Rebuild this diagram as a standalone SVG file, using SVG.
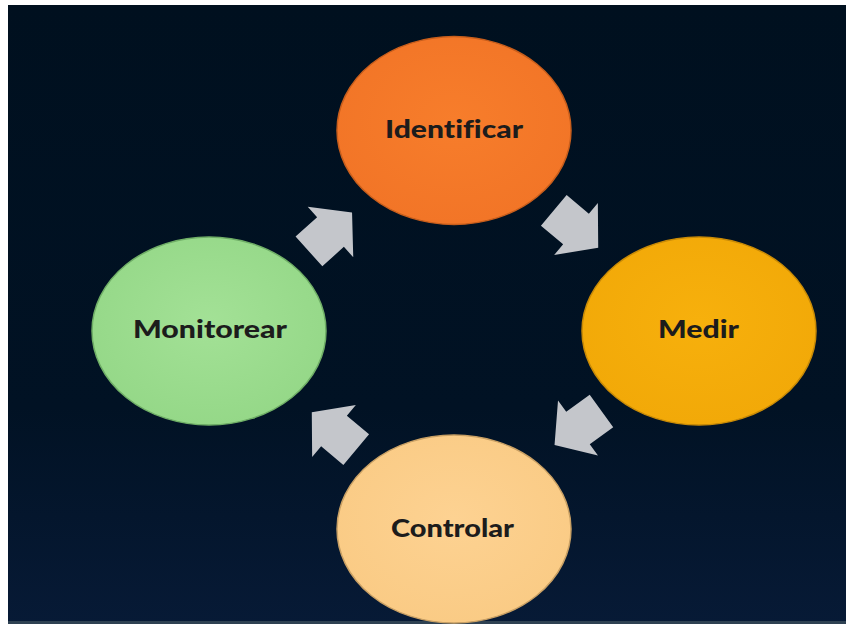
<svg xmlns="http://www.w3.org/2000/svg" width="846" height="624" viewBox="0 0 846 624">
  <defs>
    <linearGradient id="bg" x1="0" y1="0" x2="0" y2="1">
      <stop offset="0" stop-color="#00101f"/>
      <stop offset="0.65" stop-color="#011224"/>
      <stop offset="1" stop-color="#071a36"/>
    </linearGradient>
    <radialGradient id="gOrange" cx="0.5" cy="0.45" r="0.55">
      <stop offset="0" stop-color="#f77d2b"/>
      <stop offset="1" stop-color="#f27527"/>
    </radialGradient>
    <radialGradient id="gAmber" cx="0.5" cy="0.45" r="0.55">
      <stop offset="0" stop-color="#f7b00c"/>
      <stop offset="1" stop-color="#f2a908"/>
    </radialGradient>
    <radialGradient id="gPeach" cx="0.5" cy="0.45" r="0.55">
      <stop offset="0" stop-color="#fdd292"/>
      <stop offset="1" stop-color="#facb85"/>
    </radialGradient>
    <radialGradient id="gGreen" cx="0.5" cy="0.45" r="0.55">
      <stop offset="0" stop-color="#a3e196"/>
      <stop offset="1" stop-color="#95d888"/>
    </radialGradient>
    <path id="arr" d="M-29,-20 H0 V-34 L29,0 L0,34 V20 H-29 Z"/>
  </defs>
  <style>
    .lbl { font-family: Lato, "Open Sans", "Liberation Sans", sans-serif; font-weight: 900; font-size: 24px; fill: #1c1c1c; text-anchor: middle; font-variant-ligatures: none; }
    .node ellipse { stroke-width: 1.5; }
    .arrow { fill: #c4c6cb; }
  </style>
  <rect x="0" y="0" width="846" height="624" fill="#ffffff"/>
  <rect x="8" y="5" width="838" height="619" fill="url(#bg)"/>
  <rect x="8" y="621" width="838" height="3" fill="#2e4152"/>

  <g id="connectors">
    <use href="#arr" class="arrow" transform="translate(330.5,232) rotate(-42)"/>
    <use href="#arr" class="arrow" transform="translate(576,229) rotate(40)"/>
    <use href="#arr" class="arrow" transform="translate(578,428) rotate(144)"/>
    <use href="#arr" class="arrow" transform="translate(334,431) rotate(220)"/>
  </g>

  <g id="node-identificar" class="node">
    <ellipse cx="454" cy="130.5" rx="117" ry="94" fill="url(#gOrange)" stroke="#c85e1c"/>
    <text class="lbl" x="454" y="138" textLength="138" lengthAdjust="spacingAndGlyphs">Identificar</text>
  </g>
  <g id="node-medir" class="node">
    <ellipse cx="699" cy="331" rx="117" ry="94" fill="url(#gAmber)" stroke="#c88a06"/>
    <text class="lbl" x="698.5" y="338" textLength="81" lengthAdjust="spacingAndGlyphs">Medir</text>
  </g>
  <g id="node-controlar" class="node">
    <ellipse cx="454" cy="529" rx="117" ry="94" fill="url(#gPeach)" stroke="#c9a064"/>
    <text class="lbl" x="452.5" y="537" textLength="123" lengthAdjust="spacingAndGlyphs">Controlar</text>
  </g>
  <g id="node-monitorear" class="node">
    <ellipse cx="209" cy="331" rx="117" ry="94" fill="url(#gGreen)" stroke="#6fae66"/>
    <text class="lbl" x="210" y="338" textLength="154" lengthAdjust="spacingAndGlyphs">Monitorear</text>
  </g>
</svg>
